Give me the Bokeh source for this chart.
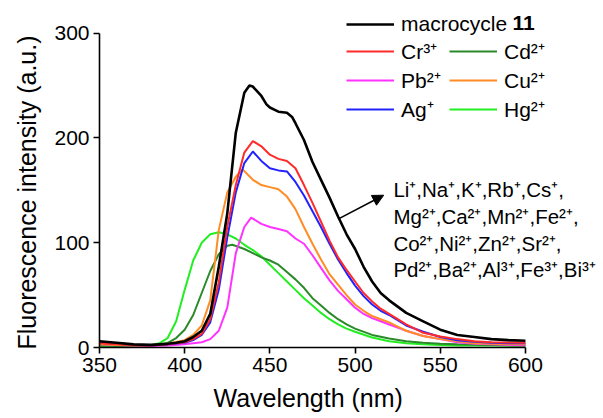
from bokeh.plotting import figure
from bokeh.models import Range1d, FixedTicker, Legend, LegendItem, Label, Arrow, NormalHead, Title
from bokeh.embed import file_html
from bokeh.resources import INLINE

# ---------------- data ----------------
black_x = [350, 360, 370, 380, 385, 390, 395, 400, 405, 410, 415, 420, 425, 430, 435, 438, 440, 445,
           448, 450, 455, 460, 463, 465, 470, 475, 480, 485, 490, 495, 500, 505, 510, 515, 520, 525,
           530, 540, 550, 560, 570, 580, 590, 600]
black_y = [6, 4.5, 3, 2.5, 3, 3.5, 4.5, 6, 10, 16, 32, 77, 128, 205, 243, 250, 249, 240,
           232, 229, 225, 224, 220, 214, 198, 177, 160, 143, 125, 108, 94, 77, 63, 52, 45, 39,
           33, 25, 17, 12, 10, 8, 7, 6.5]

cr_x = [350, 360, 370, 380, 390, 400, 405, 410, 415, 420, 425, 430, 435, 440, 445, 450, 455, 460,
        465, 470, 475, 480, 485, 490, 495, 500, 505, 510, 515, 520, 525, 530, 540, 550, 560, 570,
        580, 590, 600]
cr_y = [4, 3, 2.5, 2, 3, 5, 8, 13, 27, 62, 115, 155, 186, 197, 192, 184, 180, 178,
        171, 155, 138, 120, 102, 86, 74, 63, 52, 44, 37, 32, 27, 22, 14, 10.5, 8, 6,
        5, 4.8, 4.5]

ag_x = [350, 360, 370, 380, 390, 400, 405, 410, 415, 420, 425, 430, 435, 440, 445, 450, 455, 460,
        465, 470, 475, 480, 485, 490, 495, 500, 505, 510, 515, 520, 525, 530, 540, 550, 560, 570,
        580, 590, 600]
ag_y = [4.5, 3.5, 2.5, 2, 3, 4.5, 7, 12, 24, 55, 105, 148, 176, 187, 178, 171, 169, 168,
        158, 145, 130, 115, 99, 84, 71, 59, 49, 41, 35, 31, 26, 21, 15, 10, 7, 5.5,
        4.5, 4, 4]

cu_x = [350, 360, 370, 380, 390, 400, 405, 410, 415, 420, 425, 430, 434, 440, 445, 450, 455, 460,
        465, 470, 475, 480, 485, 490, 495, 500, 505, 510, 515, 520, 525, 530, 540, 550, 560, 570,
        580, 590, 600]
cu_y = [3, 2.5, 2, 2, 3.5, 7, 12, 21, 45, 112, 148, 163, 170, 160, 155, 153, 151, 144,
        132, 115, 99, 84, 70, 60, 50, 41, 35, 30, 27, 24, 20, 16, 11, 8, 6, 4,
        3.5, 3, 3]

pb_x = [350, 360, 370, 380, 390, 400, 405, 410, 415, 420, 425, 430, 435, 439, 445, 450, 455, 460,
        465, 470, 475, 480, 485, 490, 495, 500, 505, 510, 515, 520, 525, 530, 540, 550, 560, 570,
        580, 590, 600]
pb_y = [3, 2.5, 2, 1.5, 2, 3, 4, 5, 8, 16, 38, 90, 115, 124, 118, 115, 113, 111,
        104, 99, 88, 76, 64, 54, 46, 38, 32, 28, 25, 22, 19, 16, 11, 8, 5, 3.5,
        3, 2.5, 2]

cd_x = [350, 360, 370, 380, 385, 390, 395, 400, 405, 410, 415, 420, 425, 428, 435, 440, 445, 450,
        455, 460, 465, 470, 475, 480, 485, 490, 495, 500, 510, 520, 530, 540, 550, 560, 580, 600]
cd_y = [2, 1.5, 1.5, 2, 2.6, 4.5, 9, 17, 31, 52, 73, 89, 97, 98, 94, 90, 86, 83,
        79, 72, 65, 57, 47, 40, 33, 27, 22, 18, 12, 8.5, 6, 4.5, 3.5, 3, 2.5, 2]

hg_x = [350, 360, 370, 375, 380, 385, 390, 395, 400, 405, 410, 415, 420, 425, 430, 435, 440, 445,
        450, 455, 460, 465, 470, 475, 480, 485, 490, 495, 500, 510, 520, 530, 540, 550, 560, 580, 600]
hg_y = [1.5, 1.5, 1.5, 1.5, 2, 4, 9, 25, 55, 83, 100, 108, 110, 108, 104, 98, 93, 87,
        79, 71, 63, 55, 47, 40, 33, 27, 22, 18, 15, 9.5, 6, 4, 3, 2.5, 2, 2, 1.5]

x_ticks = [350, 400, 450, 500, 550, 600]
y_ticks = [0, 100, 200, 300]

note_lines = ["Li⁺,Na⁺,K⁺,Rb⁺,Cs⁺,",
              "Mg²⁺,Ca²⁺,Mn²⁺,Fe²⁺,",
              "Co²⁺,Ni²⁺,Zn²⁺,Sr²⁺,",
              "Pd²⁺,Ba²⁺,Al³⁺,Fe³⁺,Bi³⁺"]
note_y = [150.3, 124.9, 99.6, 74.2]

FONT = "Liberation Sans"

# ---------------- figure ----------------
p = figure(width=603, height=418, output_backend="svg", toolbar_location=None,
           x_range=Range1d(350, 645.8), y_range=Range1d(0, 331.1),
           min_border_left=99, min_border_right=0, min_border_top=0, min_border_bottom=70)
p.outline_line_color = None
p.grid.visible = False
p.background_fill_color = "white"
p.border_fill_color = "white"

r_hg = p.line(hg_x, hg_y, line_color="#22ee22", line_width=2)
r_cd = p.line(cd_x, cd_y, line_color="#2a8a2a", line_width=2)
r_pb = p.line(pb_x, pb_y, line_color="#ff33ff", line_width=2)
r_cu = p.line(cu_x, cu_y, line_color="#ff8c24", line_width=2)
r_ag = p.line(ag_x, ag_y, line_color="#2222ff", line_width=2)
r_cr = p.line(cr_x, cr_y, line_color="#ff2a2a", line_width=2)
r_bk = p.line(black_x, black_y, line_color="black", line_width=2.6)

for ax in (p.xaxis[0], p.yaxis[0]):
    ax.axis_line_color = "black"
    ax.axis_line_width = 1.6
    ax.major_tick_line_color = "black"
    ax.major_tick_line_width = 1.6
    ax.major_tick_out = 6
    ax.major_tick_in = 0
    ax.minor_tick_line_color = None
    ax.major_label_text_font = FONT
    ax.major_label_text_font_size = "21px"
    ax.major_label_text_color = "black"

p.xaxis.ticker = FixedTicker(ticks=x_ticks, minor_ticks=[])
p.yaxis.ticker = FixedTicker(ticks=y_ticks, minor_ticks=[])
p.xaxis.bounds = (350, 600)
p.yaxis.bounds = (0, 300)
p.xaxis.major_label_standoff = 4
p.yaxis.major_label_standoff = 4

p.add_layout(Title(text="Wavelength (nm)", align="left", offset=114, standoff=14,
                   text_font=FONT, text_font_size="25px", text_font_style="normal",
                   text_color="black"), "below")
p.add_layout(Title(text="Fluorescence intensity (a.u.)", align="left", offset=-2, standoff=21,
                   text_font=FONT, text_font_size="25px", text_font_style="normal",
                   text_color="black"), "left")

# ---------------- legends ----------------
common = dict(background_fill_alpha=0, border_line_color=None, padding=0, margin=0,
              glyph_width=48, glyph_height=20, label_height=20, label_standoff=7,
              label_text_font=FONT, label_text_font_size="21px", label_text_color="black")
leg1 = Legend(items=[LegendItem(label="macrocycle", renderers=[r_bk])],
              location=(247, 311), **common)
leg2 = Legend(items=[LegendItem(label="Cr³⁺", renderers=[r_cr]),
                     LegendItem(label="Cd²⁺", renderers=[r_cd]),
                     LegendItem(label="Pb²⁺", renderers=[r_pb]),
                     LegendItem(label="Cu²⁺", renderers=[r_cu]),
                     LegendItem(label="Ag⁺", renderers=[r_ag]),
                     LegendItem(label="Hg²⁺", renderers=[r_hg])],
              location=(247, 224), ncols=2, orientation="horizontal", spacing=1,
              label_width=47, **common)
p.add_layout(leg1)
p.add_layout(leg2)

p.add_layout(Label(x=592.4, y=309.5, text="11", text_font=FONT, text_font_size="21px",
                   text_font_style="bold", text_baseline="middle", text_color="black"))

# ---------------- annotation ----------------
for t, yy in zip(note_lines, note_y):
    p.add_layout(Label(x=522.5, y=yy, text=t, text_font=FONT, text_font_size="20.5px",
                       text_baseline="alphabetic", text_color="black"))

p.add_layout(Arrow(end=NormalHead(size=11, fill_color="black", line_color="black", line_width=1),
                   x_start=490, y_start=122.5, x_end=516.8, y_end=145.3,
                   line_color="black", line_width=1.6))

open("out.html", "w").write(file_html(p, INLINE))
